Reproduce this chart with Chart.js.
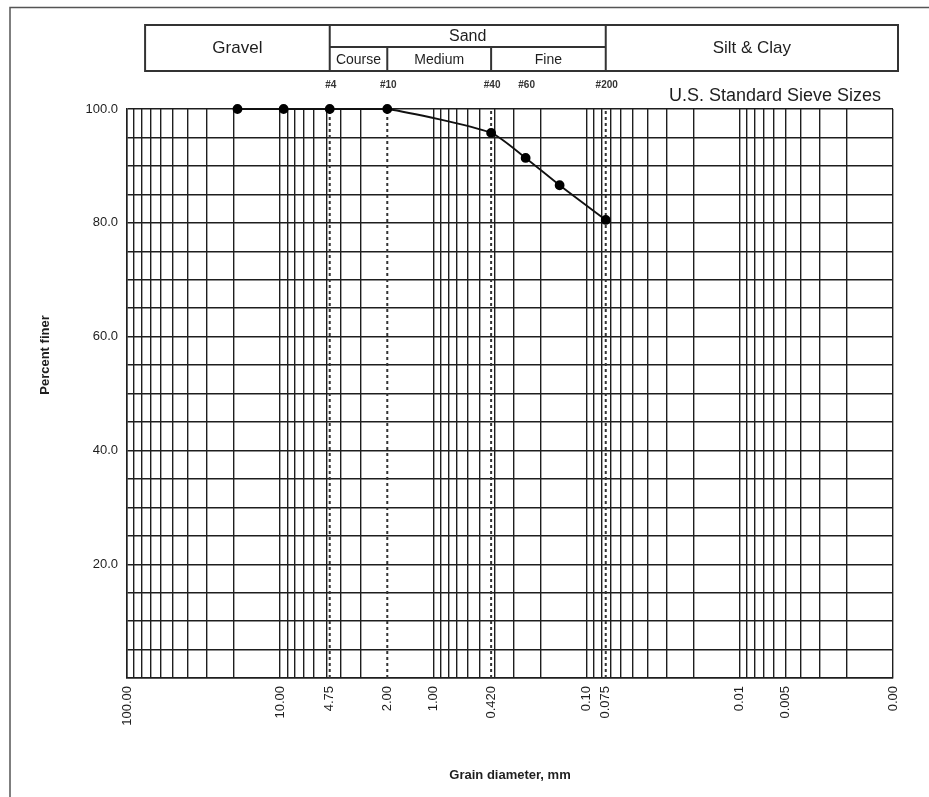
<!DOCTYPE html>
<html>
<head>
<meta charset="utf-8">
<title>Grain size distribution</title>
<script src="https://cdn.jsdelivr.net/npm/chart.js@4.4.0/dist/chart.umd.min.js"></script>
<style>
  html, body { margin: 0; padding: 0; background: #fff; }
  #wrap { position: relative; width: 929px; height: 797px; }
</style>
</head>
<body>
<div id="wrap"><canvas id="gsd" width="929" height="797"></canvas></div>
<script>
// ─── Data ─────────────────────────────────────────────────────
const grainSizes   = [19.0, 9.5, 4.75, 2.0, 0.42, 0.25, 0.15, 0.075];
const percentFiner = [100, 100, 100, 100, 95.8, 91.4, 86.6, 80.5];

// x axis (log, reversed) labels
const xLabelValues = [100, 10, 4.75, 2.0, 1.0, 0.42, 0.1, 0.075, 0.01, 0.005, 0.001];
const xLabelTexts  = ['100.00', '10.00', '4.75', '2.00', '1.00', '0.420', '0.10', '0.075', '0.01', '0.005', '0.00'];

// y axis labels
const yLabelValues = [100, 80, 60, 40, 20];
const yLabelTexts  = ['100.0', '80.0', '60.0', '40.0', '20.0'];

// sieves
const sieveSizes  = [4.75, 2.0, 0.42, 0.25, 0.075];
const sieveNames  = ['#4', '#10', '#40', '#60', '#200'];
const dashedSizes = [4.75, 2.0, 0.42, 0.075];

// soil classes (header table)
const classUpper   = 76.2;
const sandSubNames = ['Course', 'Medium', 'Fine'];
const sandSubEdges = [4.75, 2.0, 0.42, 0.075];

// log grid lines 1..9 per decade, 100 down to 0.001
const gridSizes = [100];
[1, 0, -1, -2, -3].forEach(e => {
  for (let m = 9; m >= 1; m--) gridSizes.push(+(m * Math.pow(10, e)).toPrecision(3));
});
// sieve sizes get a tick (for their label) but a dashed line instead of a grid line
const tickSizes = gridSizes.concat([4.75, 0.42, 0.075]);

const INK = '#1e1e1e';
const FONT = '"Liberation Sans", Arial, sans-serif';

function findIndexLog(v, values) {
  return values.findIndex(x => Math.abs(Math.log10(x) - Math.log10(v)) < 1e-6);
}
function labelFor(v, values, texts) {
  const i = findIndexLog(v, values);
  return i >= 0 ? texts[i] : '';
}

// ─── Header / annotations plugin ─────────────────────────────
const headerPlugin = {
  id: 'header',
  afterDraw(chart) {
    const ctx = chart.ctx;
    const x = chart.scales.x;
    const area = chart.chartArea;
    const px = v => x.getPixelForValue(v);

    ctx.save();
    // outer frame of the sheet
    ctx.strokeStyle = '#555';
    ctx.lineWidth = 1.5;
    ctx.beginPath();
    ctx.moveTo(10, 797); ctx.lineTo(10, 7.5); ctx.lineTo(929, 7.5);
    ctx.stroke();

    // class table
    const top = 25, mid = 47, bot = 71;
    const left = px(classUpper), right = area.right + 5;
    const sL = px(sandSubEdges[0]), sR = px(sandSubEdges[3]);
    ctx.strokeStyle = '#333';
    ctx.lineWidth = 2;
    ctx.strokeRect(left, top, right - left, bot - top);
    ctx.beginPath();
    ctx.moveTo(sL, top); ctx.lineTo(sL, bot);
    ctx.moveTo(sR, top); ctx.lineTo(sR, bot);
    ctx.moveTo(sL, mid); ctx.lineTo(sR, mid);
    ctx.moveTo(px(sandSubEdges[1]), mid); ctx.lineTo(px(sandSubEdges[1]), bot);
    ctx.moveTo(px(sandSubEdges[2]), mid); ctx.lineTo(px(sandSubEdges[2]), bot);
    ctx.stroke();

    ctx.fillStyle = INK;
    ctx.textAlign = 'center';
    ctx.textBaseline = 'middle';
    ctx.font = '17px ' + FONT;
    ctx.fillText('Gravel', (left + sL) / 2, (top + bot) / 2);
    ctx.fillText('Silt & Clay', (sR + right) / 2, (top + bot) / 2);
    ctx.font = '16px ' + FONT;
    ctx.fillText('Sand', (sL + sR) / 2, 37);
    ctx.font = '14px ' + FONT;
    sandSubNames.forEach((n, i) => {
      ctx.fillText(n, (px(sandSubEdges[i]) + px(sandSubEdges[i + 1])) / 2, 60);
    });

    // sieve numbers
    ctx.font = 'bold 10px ' + FONT;
    ctx.fillStyle = '#333';
    sieveSizes.forEach((s, i) => ctx.fillText(sieveNames[i], px(s) + 1, 85));

    ctx.fillStyle = INK;
    ctx.font = '18px ' + FONT;
    ctx.fillText('U.S. Standard Sieve Sizes', 775, 96);

    // y title
    ctx.translate(45, 355);
    ctx.rotate(-Math.PI / 2);
    ctx.font = 'bold 13px ' + FONT;
    ctx.fillText('Percent finer', 0, 0);
    ctx.restore();
  }
};

// ─── Datasets ────────────────────────────────────────────────
const sieveLineSets = dashedSizes.map(s => ({
  type: 'line',
  data: [{ x: s, y: 0 }, { x: s, y: 100 }],
  borderColor: '#333',
  borderWidth: 2,
  borderDash: [3, 3],
  pointRadius: 0,
  order: 2,
}));

const mainSet = {
  type: 'line',
  data: grainSizes.map((d, i) => ({ x: d, y: percentFiner[i] })),
  borderColor: '#111',
  borderWidth: 1.8,
  backgroundColor: '#000',
  pointBackgroundColor: '#000',
  pointBorderColor: '#000',
  pointRadius: 4,
  tension: 0.2,
  clip: false,
  order: 0,
};

new Chart(document.getElementById('gsd'), {
  type: 'scatter',
  data: { datasets: [mainSet, ...sieveLineSets] },
  options: {
    responsive: false,
    animation: false,
    events: [],
    layout: { padding: { top: 109, right: 36, bottom: 0, left: 0 } },
    plugins: { legend: { display: false }, tooltip: { enabled: false } },
    scales: {
      x: {
        type: 'logarithmic',
        reverse: true,
        min: 0.001,
        max: 100,
        afterBuildTicks: scale => { scale.ticks = tickSizes.map(v => ({ value: v })); },
        afterFit: scale => { scale.height = 119; },
        grid: {
          color: c => {
            if (!c.tick) return INK;
            const v = c.tick.value;
            const solid = findIndexLog(v, gridSizes) >= 0 && findIndexLog(v, dashedSizes) < 0;
            return solid ? INK : 'rgba(0,0,0,0)';
          },
          lineWidth: 1.4,
          drawTicks: false,
        },
        border: { color: INK, width: 1.5 },
        ticks: {
          autoSkip: false,
          minRotation: 90,
          maxRotation: 90,
          padding: 8,
          color: INK,
          font: { family: FONT, size: 13 },
          callback: v => labelFor(v, xLabelValues, xLabelTexts),
        },
        title: {
          display: true,
          text: 'Grain diameter, mm',
          color: INK,
          font: { family: FONT, size: 13, weight: 'bold' },
          padding: { top: 0, bottom: 14 },
        },
      },
      y: {
        min: 0,
        max: 100,
        afterFit: scale => { scale.width = 127; },
        grid: { color: INK, lineWidth: 1.4, drawTicks: false },
        border: { color: INK, width: 1.5 },
        ticks: {
          stepSize: 5,
          autoSkip: false,
          padding: 9,
          color: INK,
          font: { family: FONT, size: 13 },
          callback: v => labelFor(v || 1e-9, yLabelValues, yLabelTexts),
        },
      },
    },
  },
  plugins: [headerPlugin],
});
</script>
</body>
</html>
